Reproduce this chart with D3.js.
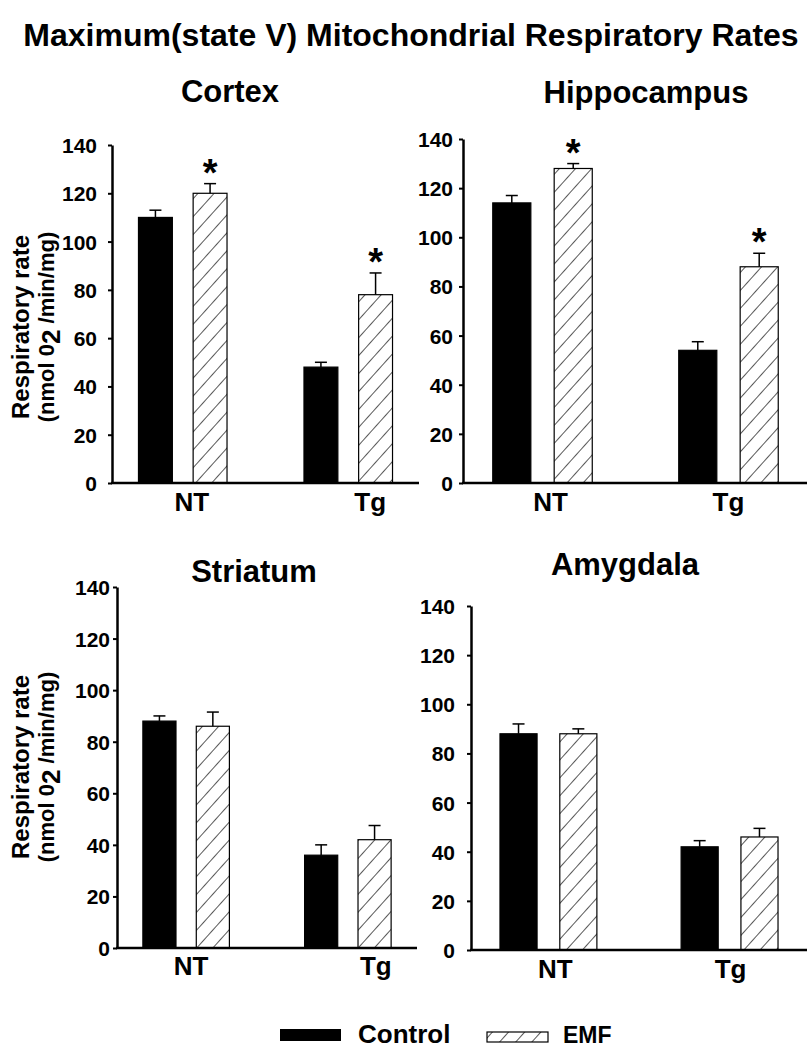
<!DOCTYPE html>
<html lang="en">
  <head>
    <meta charset="UTF-8" />
    <title>Maximum(state V) Mitochondrial Respiratory Rates</title>
    <script src="https://d3js.org/d3.v7.min.js"></script>
    <style>
      body { margin: 0; background: #fff; }
      text { font-family: "Liberation Sans", Arial, sans-serif; font-weight: bold; fill: #000; }
    </style>
  </head>
  <body>
    <div id="chart"></div>
    <script>
      // data
      const groups = ["NT", "Tg"];
      const series = ["Control", "EMF"];
      const yTicks = [0, 20, 40, 60, 80, 100, 120, 140];

      const cortexControl = [110, 48];
      const cortexControlErr = [3, 2];
      const cortexEMF = [120, 78];
      const cortexEMFErr = [4, 9];
      const cortexSig = [true, true];

      const hippoControl = [114, 54];
      const hippoControlErr = [3, 3.5];
      const hippoEMF = [128, 88];
      const hippoEMFErr = [2, 5.5];
      const hippoSig = [true, true];

      const striatumControl = [88, 36];
      const striatumControlErr = [2, 4];
      const striatumEMF = [86, 42];
      const striatumEMFErr = [5.5, 5.5];
      const striatumSig = [false, false];

      const amygdalaControl = [88, 42];
      const amygdalaControlErr = [4, 2.5];
      const amygdalaEMF = [88, 46];
      const amygdalaEMFErr = [2, 3.5];
      const amygdalaSig = [false, false];

      const W = 807, H = 1049;
      const svg = d3.select("#chart").append("svg").attr("width", W).attr("height", H);

      // hatch for EMF bars
      const defs = svg.append("defs");
      const pat = defs.append("pattern")
        .attr("id", "hatch")
        .attr("patternUnits", "userSpaceOnUse")
        .attr("width", 12).attr("height", 12)
        .attr("patternTransform", "rotate(42)");
      pat.append("rect").attr("width", 12).attr("height", 12).attr("fill", "#fff");
      pat.append("line").attr("x1", 0).attr("y1", 0).attr("x2", 0).attr("y2", 12)
        .attr("stroke", "#111").attr("stroke-width", 1.4);

      svg.append("text")
        .attr("x", 411).attr("y", 46)
        .attr("text-anchor", "middle")
        .style("font-size", "32px")
        .text("Maximum(state V) Mitochondrial Respiratory Rates");

      const panels = [
        { title: "Cortex", tx: 230, ty: 102, xr: [112, 419], yr: [483, 145], labY: 511, labShift: [9, 22], pad: 11, yLabel: 327,
          control: cortexControl, controlErr: cortexControlErr, emf: cortexEMF, emfErr: cortexEMFErr, sig: cortexSig },
        { title: "Hippocampus", tx: 646, ty: 103, xr: [463, 808], yr: [483, 139], labY: 511, labShift: [8, 0], pad: 6, yLabel: null,
          control: hippoControl, controlErr: hippoControlErr, emf: hippoEMF, emfErr: hippoEMFErr, sig: hippoSig },
        { title: "Striatum", tx: 254, ty: 582, xr: [117, 417], yr: [948, 587], labY: 975, labShift: [5, 28], pad: 3, yLabel: 767,
          control: striatumControl, controlErr: striatumControlErr, emf: striatumEMF, emfErr: striatumEMFErr, sig: striatumSig },
        { title: "Amygdala", tx: 625, ty: 575, xr: [471, 807], yr: [950, 606], labY: 978, labShift: [7, 1], pad: 12, yLabel: null,
          control: amygdalaControl, controlErr: amygdalaControlErr, emf: amygdalaEMF, emfErr: amygdalaEMFErr, sig: amygdalaSig }
      ];

      panels.forEach(function (p) {
        const g = svg.append("g");

        const x = d3.scaleBand().domain(groups).range(p.xr).paddingInner(0.465).paddingOuter(0.16);
        const xs = d3.scaleBand().domain(series).range([0, x.bandwidth()]).paddingInner(0.38);
        const y = d3.scaleLinear().domain([0, 140]).range(p.yr);

        const rows = [];
        groups.forEach(function (grp, i) {
          rows.push({ grp: grp, s: "Control", v: p.control[i], e: p.controlErr[i], sig: false });
          rows.push({ grp: grp, s: "EMF", v: p.emf[i], e: p.emfErr[i], sig: p.sig[i] });
        });

        // bars
        g.selectAll(".bar")
          .data(rows)
          .join("rect")
          .attr("x", (d) => x(d.grp) + xs(d.s))
          .attr("y", (d) => y(d.v))
          .attr("width", xs.bandwidth())
          .attr("height", (d) => y(0) - y(d.v))
          .attr("fill", (d) => (d.s === "Control" ? "#000" : "url(#hatch)"))
          .attr("stroke", "#000")
          .attr("stroke-width", 1.2);

        // error bars (upper only)
        const cx = (d) => x(d.grp) + xs(d.s) + xs.bandwidth() / 2;
        g.selectAll(".err")
          .data(rows)
          .join("line")
          .attr("x1", cx).attr("x2", cx)
          .attr("y1", (d) => y(d.v)).attr("y2", (d) => y(d.v + d.e))
          .attr("stroke", "#000").attr("stroke-width", 1.5);
        g.selectAll(".cap")
          .data(rows)
          .join("line")
          .attr("x1", (d) => cx(d) - 6).attr("x2", (d) => cx(d) + 6)
          .attr("y1", (d) => y(d.v + d.e)).attr("y2", (d) => y(d.v + d.e))
          .attr("stroke", "#000").attr("stroke-width", 1.5);

        // significance stars
        g.selectAll(".star")
          .data(rows.filter((d) => d.sig))
          .join("text")
          .attr("x", cx)
          .attr("y", (d) => y(d.v + d.e) + 2)
          .attr("text-anchor", "middle")
          .style("font-size", "38px")
          .text("*");

        // y axis
        const ya = g.append("g")
          .attr("transform", "translate(" + p.xr[0] + ",0)")
          .call(d3.axisLeft(y).tickValues(yTicks).tickSize(4).tickPadding(p.pad).tickSizeOuter(0));
        ya.select(".domain").attr("stroke", "#000").attr("stroke-width", 2.5);
        ya.selectAll(".tick line").attr("stroke", "#000").attr("stroke-width", 2);
        ya.selectAll(".tick text")
          .attr("dy", "0.36em")
          .style("font-size", "21px")
          .style("font-family", '"Liberation Sans", Arial, sans-serif')
          .style("font-weight", "bold")
          .attr("fill", "#000");

        // x axis line
        g.append("line")
          .attr("x1", p.xr[0] - 1).attr("x2", p.xr[1])
          .attr("y1", y(0)).attr("y2", y(0))
          .attr("stroke", "#000").attr("stroke-width", 2.5);

        // group labels
        g.selectAll(".grp")
          .data(groups)
          .join("text")
          .attr("x", (d, i) => x(d) + x.bandwidth() / 2 + p.labShift[i])
          .attr("y", p.labY)
          .attr("text-anchor", "middle")
          .style("font-size", "26px")
          .text((d) => d);

        // panel title
        g.append("text")
          .attr("x", p.tx).attr("y", p.ty)
          .attr("text-anchor", "middle")
          .style("font-size", "31px")
          .text(p.title);

        // y axis title
        if (p.yLabel !== null) {
          g.append("text")
            .attr("transform", "translate(29," + p.yLabel + ") rotate(-90)")
            .attr("text-anchor", "middle")
            .style("font-size", "24px")
            .text("Respiratory rate");
          const t2 = g.append("text")
            .attr("transform", "translate(54," + p.yLabel + ") rotate(-90)")
            .attr("text-anchor", "middle")
            .style("font-size", "22px");
          t2.append("tspan").text("(nmol 0");
          t2.append("tspan").attr("dy", 6).style("font-size", "26px").text("2");
          t2.append("tspan").attr("dy", -6).text(" /min/mg)");
        }
      });

      // legend
      const lg = svg.append("g");
      lg.append("rect").attr("x", 280).attr("y", 1029).attr("width", 61).attr("height", 12).attr("fill", "#000");
      lg.append("text").attr("x", 358).attr("y", 1043).style("font-size", "26px").text(series[0]);
      lg.append("rect").attr("x", 487).attr("y", 1032).attr("width", 61).attr("height", 10)
        .attr("fill", "url(#hatch)").attr("stroke", "#000").attr("stroke-width", 1.2);
      lg.append("text").attr("x", 563).attr("y", 1043).style("font-size", "23px").text(series[1]);
    </script>
  </body>
</html>
